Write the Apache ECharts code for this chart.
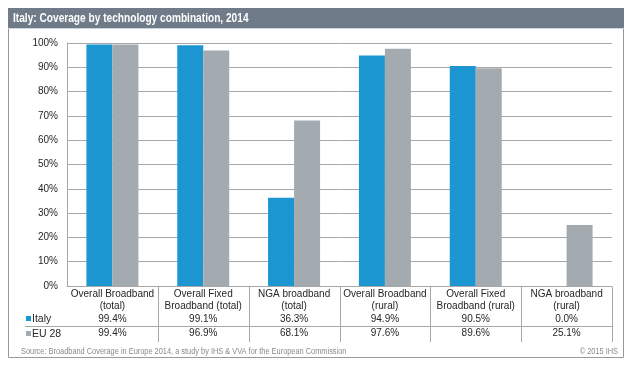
<!DOCTYPE html>
<html><head><meta charset="utf-8">
<script src="https://cdn.jsdelivr.net/npm/echarts@6/dist/echarts.min.js"></script>
<style>html,body{margin:0;padding:0;background:#fff}#c{width:633px;height:371px}</style>
</head><body><div id="c"></div>
<script>
var titleText = 'Italy: Coverage by technology combination, 2014';
var categories = ['Overall Broadband\n(total)', 'Overall Fixed\nBroadband (total)', 'NGA broadband\n(total)', 'Overall Broadband\n(rural)', 'Overall Fixed\nBroadband (rural)', 'NGA broadband\n(rural)'];
var seriesNames = ['Italy', 'EU 28'];
var italy = [99.4, 99.1, 36.3, 94.9, 90.5, 0.0];
var eu28 = [99.4, 96.9, 68.1, 97.6, 89.6, 25.1];
var sourceText = 'Source: Broadband Coverage in Europe 2014, a study by IHS & VVA for the European Commission';
var copyText = '\u00a9 2015 IHS';

var BLUE = '#1b96d1', GRAY = '#a3abb1', LINE = '#a8a8a8', TXT = '#262626';
var FONT = 'Liberation Sans, Arial, sans-serif';

var chart = echarts.init(document.getElementById('c'), null, {renderer: 'canvas'});
var option = {
  animation: false,
  textStyle: {fontFamily: FONT},
  grid: {left: 67, right: 21, top: 43, bottom: 85},
  xAxis: {
    type: 'category', data: categories,
    axisLine: {lineStyle: {color: LINE}},
    axisTick: {show: false},
    axisLabel: {
      interval: 0, margin: 2,
      formatter: function (v, i) {
        var lines = v.split('\n').map(function (s) { return '{a|' + s + '}'; }).join('\n');
        return lines + '\n{b|' + italy[i].toFixed(1) + '%}\n{c|' + eu28[i].toFixed(1) + '%}';
      },
      rich: {
        a: {fontSize: 10, lineHeight: 12, color: TXT, fontFamily: FONT, align: 'center'},
        b: {fontSize: 10, lineHeight: 14, color: TXT, fontFamily: FONT, align: 'center'},
        c: {fontSize: 10, lineHeight: 14, color: TXT, fontFamily: FONT, align: 'center'}
      }
    }
  },
  yAxis: {
    type: 'value', min: 0, max: 100, interval: 10,
    axisLine: {show: true, lineStyle: {color: LINE}},
    axisTick: {show: false},
    splitLine: {lineStyle: {color: LINE}},
    axisLabel: {formatter: '{value}%', fontSize: 10, color: TXT, margin: 9, fontFamily: FONT}
  },
  series: [
    {name: seriesNames[0], type: 'bar', data: italy, barWidth: 26, barGap: '0%', itemStyle: {color: BLUE}},
    {name: seriesNames[1], type: 'bar', data: eu28, barWidth: 26, barGap: '0%', itemStyle: {color: GRAY}}
  ]
};
chart.setOption(option);

var c0 = chart.convertToPixel({xAxisIndex: 0}, 0);
var c1 = chart.convertToPixel({xAxisIndex: 0}, 1);
var bw = c1 - c0;
var g = [
  {type: 'rect', shape: {x: 8.5, y: 8.5, width: 615, height: 349}, style: {fill: 'none', stroke: '#9a9a9a', lineWidth: 1}, z: 0, silent: true},
  {type: 'rect', shape: {x: 8, y: 8, width: 616, height: 20}, style: {fill: '#6f7b88'}, z: 1},
  {type: 'line', shape: {x1: 8, y1: 28.5, x2: 624, y2: 28.5}, style: {stroke: '#c9d4dc', lineWidth: 1}, z: 1},
  {type: 'text', x: 13, y: 18, scaleX: 0.78, style: {text: titleText, fill: '#fff', font: 'bold 13px ' + FONT, textVerticalAlign: 'middle'}, z: 2},
  {type: 'line', shape: {x1: 25, y1: 326.5, x2: c0 + bw * 5.5, y2: 326.5}, style: {stroke: LINE, lineWidth: 1}, z: 2},
  {type: 'rect', shape: {x: 26, y: 316, width: 5, height: 5}, style: {fill: BLUE}, z: 2},
  {type: 'text', x: 32, y: 319, style: {text: seriesNames[0], fill: TXT, font: '10.5px ' + FONT, textVerticalAlign: 'middle'}, z: 2},
  {type: 'rect', shape: {x: 26, y: 331, width: 5, height: 5}, style: {fill: GRAY}, z: 2},
  {type: 'text', x: 32, y: 334, style: {text: seriesNames[1], fill: TXT, font: '10.5px ' + FONT, textVerticalAlign: 'middle'}, z: 2},
  {type: 'text', x: 21, y: 352, scaleX: 0.87, style: {text: sourceText, fill: '#8a8a8a', font: '8.5px ' + FONT, textVerticalAlign: 'middle'}, z: 2},
  {type: 'text', x: 618, y: 352, scaleX: 0.87, style: {text: copyText, fill: '#8a8a8a', font: '8.5px ' + FONT, textVerticalAlign: 'middle', textAlign: 'right'}, z: 2}
];
for (var i = 0; i < categories.length; i++) {
  var x = Math.round(c0 + bw * (i + 0.5)) + 0.5;
  g.push({type: 'line', shape: {x1: x, y1: 287, x2: x, y2: 342}, style: {stroke: LINE, lineWidth: 1}, z: 2});
}
chart.setOption({graphic: g});
</script>
</body></html>
